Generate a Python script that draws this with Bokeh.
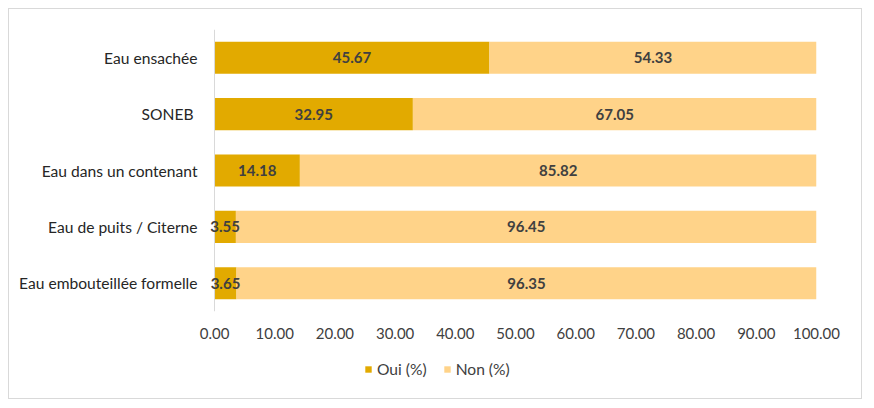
from bokeh.plotting import figure
from bokeh.layouts import column
from bokeh.models import ColumnDataSource, Range1d, NumeralTickFormatter, FixedTicker, Legend, LegendItem, LabelSet, Span
from bokeh.core.properties import value
from bokeh.embed import file_html
from bokeh.resources import INLINE

categories = ["Eau ensachée", "SONEB ", "Eau dans un contenant", "Eau de puits / Citerne", "Eau embouteillée formelle"]
oui = [45.67, 32.95, 14.18, 3.55, 3.65]
non = [54.33, 67.05, 85.82, 96.45, 96.35]
series_names = ["Oui (%)", "Non (%)"]
x_ticks = [0, 10, 20, 30, 40, 50, 60, 70, 80, 90, 100]

FONT = "Lato"
C_OUI = "#E2AA00"
C_NON = "#FFD389"

src = ColumnDataSource(dict(
    cat=categories,
    oui=oui,
    non=non,
    oui_mid=[v / 2 for v in oui],
    non_mid=[o + n / 2 for o, n in zip(oui, non)],
    oui_lbl=["%.2f" % v for v in oui],
    non_lbl=["%.2f" % v for v in non],
))

p = figure(width=852, height=345, y_range=list(reversed(categories)), x_range=Range1d(-1, 100),
           output_backend="svg", toolbar_location=None,
           min_border_left=199, min_border_right=45, min_border_top=20, min_border_bottom=43)
p.outline_line_color = None
p.grid.grid_line_color = None

r = p.hbar_stack(["oui", "non"], y="cat", height=0.57, color=[C_OUI, C_NON], source=src, line_color=None)

# vertical axis line at x = 0
p.add_layout(Span(location=0, dimension="height", line_color="#d9d9d9", line_width=1))

lbl_style = dict(text_font=value(FONT), text_font_size="15px", text_font_style="bold", text_color="#404040",
                 text_align="center", text_baseline="middle")
p.add_layout(LabelSet(x="oui_mid", y="cat", text="oui_lbl", source=src, **lbl_style))
p.add_layout(LabelSet(x="non_mid", y="cat", text="non_lbl", source=src, **lbl_style))

xa = p.xaxis[0]
xa.ticker = FixedTicker(ticks=x_ticks)
xa.formatter = NumeralTickFormatter(format="0.00")
xa.axis_line_color = None
xa.major_tick_line_color = None
xa.minor_tick_line_color = None
xa.major_tick_out = 0
xa.major_label_text_font = FONT
xa.major_label_text_font_size = "15px"
xa.major_label_text_color = "#404040"
xa.major_label_standoff = 16

ya = p.yaxis[0]
ya.axis_line_color = None
ya.major_tick_line_color = None
ya.minor_tick_line_color = None
ya.major_tick_out = 0
ya.major_label_text_font = FONT
ya.major_label_text_font_size = "15.6px"
ya.major_label_text_color = "#262626"
ya.major_label_standoff = 11

# legend strip
lg = figure(width=852, height=44, x_range=Range1d(0, 1), y_range=Range1d(0, 1),
            output_backend="svg", toolbar_location=None,
            x_axis_location=None, y_axis_location=None, min_border=0)
lg.outline_line_color = None
lg.grid.grid_line_color = None
d1 = lg.rect(x=[10], y=[10], width=1, height=1, fill_color=C_OUI, line_color=None)
d2 = lg.rect(x=[10], y=[10], width=1, height=1, fill_color=C_NON, line_color=None)
legend = Legend(items=[LegendItem(label=series_names[0], renderers=[d1]),
                       LegendItem(label=series_names[1], renderers=[d2])],
                orientation="horizontal", location=(156, 20),
                label_text_font=FONT, label_text_font_size="15.6px", label_text_color="#404040",
                glyph_width=8, glyph_height=8, label_standoff=5, spacing=16, label_height=16,
                border_line_color=None, background_fill_alpha=0, padding=2, margin=0)
lg.add_layout(legend, "center")

layout = column(p, lg, spacing=0)
layout.styles = {"border": "1px solid #d9d9d9", "margin-left": "8px", "margin-top": "8px"}

open("out.html", "w").write(file_html(layout, INLINE))
